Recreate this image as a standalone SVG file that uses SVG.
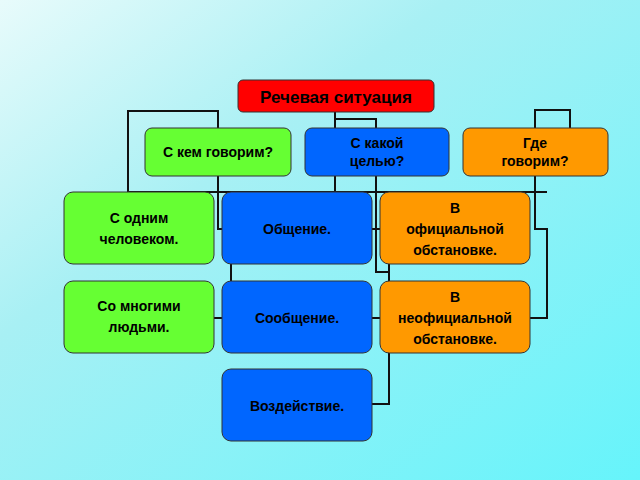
<svg xmlns="http://www.w3.org/2000/svg" width="640" height="480" viewBox="0 0 640 480">
<defs>
<linearGradient id="bg" x1="0" y1="0" x2="1" y2="1">
<stop offset="0" stop-color="#e8fbfb"/><stop offset="0.35" stop-color="#a8f0f4"/><stop offset="1" stop-color="#66f4fb"/>
</linearGradient>
<style>
rect.n{stroke:#333;stroke-width:1}
.g{fill:#66ff33}.b{fill:#0066ff}.o{fill:#ff9900}.r{fill:#ff0000}
text{font-family:"Liberation Sans",Arial,sans-serif;font-weight:bold;font-size:14px;fill:#000;text-anchor:middle}
#conn path{fill:none;stroke:#111;stroke-width:2}
</style>
</defs>
<rect width="640" height="480" fill="url(#bg)"/>
<g id="conn">
<path d="M335 112V192M335 119H376V128M376 176V272H389M389 270V404H372M389 264V281"/>
<path d="M128 192V111H218V128M218 176V229H222M214 318H222M231 264V281"/>
<path d="M128 192H547M372 229H380M372 318H380"/>
<path d="M535 176V229H547V318H530M535 128V110H570V128M535 111V128"/>
</g>
<g id="top"><rect class="n r" x="238" y="80" width="196" height="32" rx="5"/><text x="336" y="103" font-size="17" style="font-size:17px">Речевая ситуация</text></g>
<g id="kem"><rect class="n g" x="145" y="128" width="146" height="48" rx="7"/><text x="218" y="157">С кем говорим?</text></g>
<g id="cel"><rect class="n b" x="305" y="128" width="144" height="48" rx="7"/><text x="377" y="148">С какой</text><text x="377" y="166">целью?</text></g>
<g id="gde"><rect class="n o" x="463" y="128" width="145" height="48" rx="7"/><text x="535" y="148">Где</text><text x="535" y="166">говорим?</text></g>
<g id="odin"><rect class="n g" x="64" y="192" width="150" height="72" rx="9"/><text x="139" y="223">С одним</text><text x="139" y="244">человеком.</text></g>
<g id="obsch"><rect class="n b" x="222" y="192" width="150" height="72" rx="9"/><text x="297" y="234">Общение.</text></g>
<g id="ofic"><rect class="n o" x="380" y="192" width="150" height="72" rx="9"/><text x="455" y="213">В</text><text x="455" y="234">официальной</text><text x="455" y="255">обстановке.</text></g>
<g id="mnog"><rect class="n g" x="64" y="281" width="150" height="72" rx="9"/><text x="139" y="311">Со многими</text><text x="139" y="332">людьми.</text></g>
<g id="soob"><rect class="n b" x="222" y="281" width="150" height="72" rx="9"/><text x="297" y="323">Сообщение.</text></g>
<g id="neof"><rect class="n o" x="380" y="281" width="150" height="72" rx="9"/><text x="455" y="302">В</text><text x="455" y="323">неофициальной</text><text x="455" y="344">обстановке.</text></g>
<g id="vozd"><rect class="n b" x="222" y="369" width="150" height="72" rx="9"/><text x="297" y="411">Воздействие.</text></g>
</svg>
